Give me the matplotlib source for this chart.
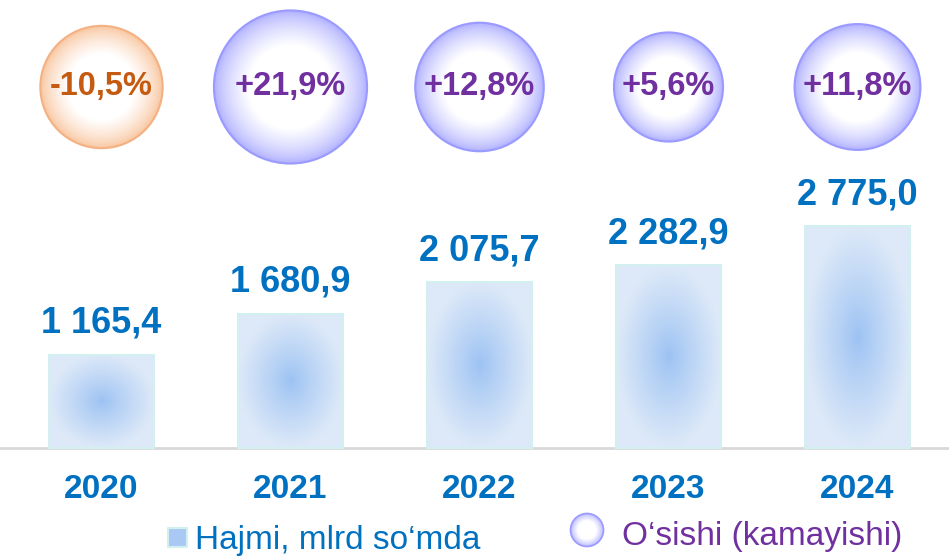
import numpy as np
import matplotlib
matplotlib.use("Agg")
import matplotlib.pyplot as plt
from matplotlib.colors import to_rgb
from matplotlib.patches import Rectangle

# ---- data ----
years = ["2020", "2021", "2022", "2023", "2024"]
volume = [1165.4, 1680.9, 2075.7, 2282.9, 2775.0]      # Hajmi, mlrd so'mda
growth = [-10.5, 21.9, 12.8, 5.6, 11.8]                 # O'sishi (kamayishi), %
legend_labels = ["Hajmi, mlrd so\u2018mda", "O\u2018sishi (kamayishi)"]

FONT = "Liberation Sans"
BLUE = "#0070c0"
PURPLE = "#7030a0"
ORANGE_TXT = "#c55a11"

W, H, DPI = 949, 556, 100
fig = plt.figure(figsize=(W / DPI, H / DPI), dpi=DPI)
ax = fig.add_axes([0, 0, 1, 1])
ax.set_axis_off()

step_px = 189.0
x0_px = 101.5
ax.set_xlim(-x0_px / step_px, (W - x0_px) / step_px)
k = 0.08            # px per unit
base_px = 448.0
ax.set_ylim(-(H - base_px) / k, base_px / k)

x = np.arange(len(years))
bw = 0.556

# bars with radial gradient
c_center = np.array(to_rgb("#9cc2f3"))
c_edge = np.array(to_rgb("#dde9f8"))
for xi, v in zip(x, volume):
    ny, nx = 200, 100
    yy, xx = np.mgrid[0:ny, 0:nx]
    dx = (xx / (nx - 1) - 0.5) / 0.5
    dy = (yy / (ny - 1) - 0.5) / 0.5
    d = np.clip(np.sqrt(dx ** 2 + dy ** 2), 0, 1) ** 0.9
    img = c_center[None, None, :] + (c_edge - c_center)[None, None, :] * d[..., None]
    ax.imshow(img, extent=(xi - bw / 2, xi + bw / 2, 0, v), aspect="auto",
              interpolation="bilinear", zorder=2)
    ax.add_patch(Rectangle((xi - bw / 2, 0), bw, v, fill=False,
                           edgecolor="#d3f0f0", linewidth=1.5, zorder=3))
    lbl = f"{v:,.1f}".replace(",", " ").replace(".", ",")
    ax.annotate(lbl, (xi, v), xytext=(0, 10), textcoords="offset points",
                ha="center", va="bottom", fontsize=26, fontweight="bold",
                color=BLUE, family=FONT, zorder=5)

# baseline
ax.axhline(0, color="#d9d9d9", linewidth=2, zorder=1)

# year labels
tr = ax.get_xaxis_transform()
for xi, yr in zip(x, years):
    ax.text(xi, (H - 490) / H, yr, transform=tr, ha="center", va="center",
            fontsize=24, fontweight="bold", color=BLUE, family=FONT)


def bubble(axis, xpos, ypos, r_px, edge, inner, transform, z=4, lw=1.5):
    n = 40
    for i in range(n):
        f = 1.0 - 0.45 * i / (n - 1)
        t = (i / (n - 1)) ** 0.7
        col = np.array(to_rgb(inner)) * (1 - t) + np.array([1, 1, 1]) * t
        d_pt = 2 * r_px * f * 72 / DPI
        axis.scatter([xpos], [ypos], s=d_pt ** 2, color=col, edgecolors="none",
                     transform=transform, zorder=z, clip_on=False)
    d_pt = 2 * r_px * 72 / DPI
    axis.scatter([xpos], [ypos], s=d_pt ** 2, facecolors="none", edgecolors=edge,
                 linewidths=lw, transform=transform, zorder=z + 0.1, clip_on=False)


# growth bubbles
cy = (H - 87) / H
for xi, g in zip(x, growth):
    r_px = 47 + 1.35 * abs(g)
    if g < 0:
        edge, inner, tc = "#f4b183", "#f8c49c", ORANGE_TXT
    else:
        edge, inner, tc = "#9a9aff", "#aeaeff", PURPLE
    bubble(ax, xi, cy, r_px, edge, inner, tr)
    txt = f"{g:+.1f}%".replace(".", ",")
    ax.text(xi, cy, txt, transform=tr, ha="center", va="center", fontsize=23.5,
            fontweight="bold", color=tc, family=FONT, zorder=6)

# legend (manual)
ftr = fig.transFigure
ax.scatter([176.5 / W], [(H - 537) / H], s=(19 * 72 / DPI) ** 2, marker="s",
           color="#a9c8f4", edgecolors="#d3f0f0", linewidths=1.5,
           transform=ftr, zorder=6, clip_on=False)
fig.text(195 / W, (H - 549) / H, legend_labels[0], ha="left", va="baseline",
         fontsize=24, color=BLUE, family=FONT)
bubble(ax, 587 / W, (H - 530) / H, 16.5, "#9a9aff", "#aeaeff", ftr, z=6, lw=1.2)
fig.text(622 / W, (H - 545) / H, legend_labels[1], ha="left", va="baseline",
         fontsize=24, color=PURPLE, family=FONT)

fig.savefig("out.png", dpi=DPI, facecolor="white")
